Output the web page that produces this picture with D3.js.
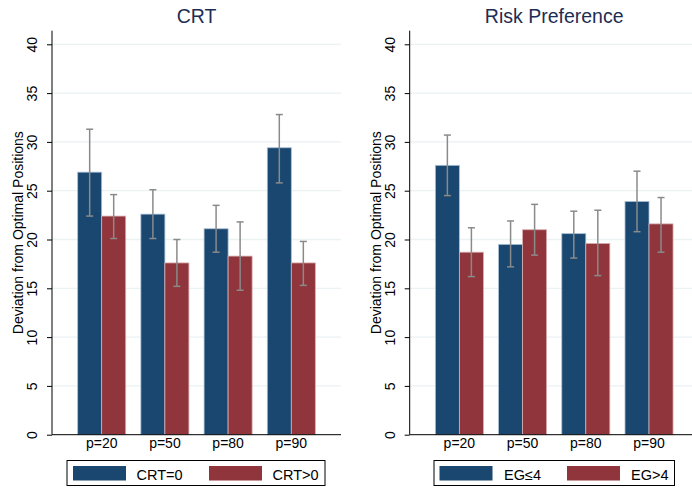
<!DOCTYPE html>
<html>
<head>
<meta charset="utf-8">
<script src="https://cdn.jsdelivr.net/npm/d3@7/dist/d3.min.js"></script>
<style>
  html, body { margin: 0; padding: 0; background: #fff; }
  svg { display: block; font-family: "Liberation Sans", Arial, sans-serif; }
</style>
</head>
<body>
<svg id="chart" width="692" height="490"></svg>
<script>
// Categories and tick labels
const categories = ["p=20", "p=50", "p=80", "p=90"];
const yTicks = [0, 5, 10, 15, 20, 25, 30, 35, 40];

// CRT panel: mean deviation with confidence intervals
const crtZero  = [26.9, 22.6, 21.1, 29.4];
const crtZeroLo = [22.4, 20.1, 18.7, 25.8];
const crtZeroHi = [31.3, 25.1, 23.5, 32.8];
const crtPos   = [22.4, 17.6, 18.3, 17.6];
const crtPosLo = [20.1, 15.2, 14.8, 15.3];
const crtPosHi = [24.6, 20.0, 21.8, 19.8];

// Risk preference panel
const egLow    = [27.6, 19.5, 20.6, 23.9];
const egLowLo  = [24.5, 17.2, 18.1, 20.8];
const egLowHi  = [30.7, 21.9, 22.9, 27.0];
const egHigh   = [18.7, 21.0, 19.6, 21.6];
const egHighLo = [16.2, 18.4, 16.3, 18.7];
const egHighHi = [21.2, 23.6, 23.0, 24.3];

const panels = [
  { title: "CRT", left: 52, legend: ["CRT=0", "CRT>0"],
    series: [
      { mean: crtZero, lo: crtZeroLo, hi: crtZeroHi },
      { mean: crtPos,  lo: crtPosLo,  hi: crtPosHi }
    ],
    legendBox: [67, 325], swatchX: [73, 209], labelX: [136.5, 272.5] },
  { title: "Risk Preference", left: 409.7, legend: ["EG\u22644", "EG>4"],
    series: [
      { mean: egLow,  lo: egLowLo,  hi: egLowHi },
      { mean: egHigh, lo: egHighLo, hi: egHighHi }
    ],
    legendBox: [434, 674.5], swatchX: [439.5, 567], labelX: [504, 631] }
];

const colors = ["#1a476f", "#90353b"];
const outlines = ["#a9c0d6", "#d9aeb1"];
const plotW = 289;
const yTop = 30.7, yBottom = 434.7;

const svg = d3.select("#chart");

panels.forEach(p => {
  const g = svg.append("g");
  const y = d3.scaleLinear().domain([0, 40]).range([yBottom, 44.3]);
  const x0 = d3.scaleBand().domain(categories)
    .range([p.left, p.left + plotW]).paddingInner(0.24).paddingOuter(0.406);
  const x1 = d3.scaleBand().domain([0, 1]).range([0, x0.bandwidth()]);

  // horizontal grid
  g.append("g").selectAll("line").data(yTicks.filter(t => t > 0)).join("line")
    .attr("x1", p.left).attr("x2", p.left + plotW)
    .attr("y1", d => y(d)).attr("y2", d => y(d))
    .attr("stroke", "#eaf2f3").attr("stroke-width", 1.3);

  // bars
  p.series.forEach((s, si) => {
    g.append("g").selectAll("rect").data(categories).join("rect")
      .attr("x", c => x0(c) + x1(si))
      .attr("width", x1.bandwidth())
      .attr("y", (c, i) => y(s.mean[i]))
      .attr("height", (c, i) => y(0) - y(s.mean[i]))
      .attr("fill", colors[si])
      .attr("stroke", outlines[si]).attr("stroke-width", 0.8);
  });

  // error bars
  p.series.forEach((s, si) => {
    const eg = g.append("g").attr("stroke", "#8a8a8a").attr("stroke-width", 1.5);
    categories.forEach((c, i) => {
      const cx = x0(c) + x1(si) + x1.bandwidth() / 2;
      eg.append("line").attr("x1", cx).attr("x2", cx)
        .attr("y1", y(s.lo[i])).attr("y2", y(s.hi[i]));
      [s.lo[i], s.hi[i]].forEach(v => {
        eg.append("line").attr("x1", cx - 3.5).attr("x2", cx + 3.5)
          .attr("y1", y(v)).attr("y2", y(v));
      });
    });
  });

  // y axis
  const yAxis = d3.axisLeft(y).tickValues(yTicks).tickSize(5).tickPadding(4);
  const ya = g.append("g").attr("transform", `translate(${p.left},0)`).call(yAxis);
  ya.select(".domain").remove();
  ya.selectAll(".tick line").attr("stroke", "#000").attr("stroke-width", 1);
  ya.selectAll(".tick text")
    .attr("font-size", 14).attr("fill", "#000")
    .attr("transform", "rotate(-90)")
    .attr("x", 0).attr("y", -19)
    .attr("text-anchor", "middle").attr("dy", "0.32em");
  g.append("line").attr("x1", p.left).attr("x2", p.left)
    .attr("y1", yTop).attr("y2", yBottom).attr("stroke", "#000").attr("stroke-width", 1);

  // x axis
  const xa = g.append("g").attr("transform", `translate(0,${yBottom})`)
    .call(d3.axisBottom(x0).tickSize(0).tickPadding(3));
  xa.select(".domain").attr("d", `M${p.left},0H${p.left + plotW}`)
    .attr("stroke", "#000").attr("stroke-width", 1);
  xa.selectAll(".tick text").attr("font-size", 14).attr("fill", "#000");

  // axis title
  g.append("text")
    .attr("transform", `translate(${p.left - 34},${(yTop + yBottom) / 2}) rotate(-90)`)
    .attr("text-anchor", "middle").attr("dy", "0.35em")
    .attr("font-size", 14).attr("fill", "#000")
    .text("Deviation from Optimal Positions");

  // panel title
  g.append("text").attr("x", p.left + plotW / 2).attr("y", 23)
    .attr("text-anchor", "middle").attr("font-size", 19.5).attr("fill", "#1e2d53")
    .text(p.title);

  // legend
  g.append("rect").attr("x", p.legendBox[0]).attr("y", 460.5)
    .attr("width", p.legendBox[1] - p.legendBox[0]).attr("height", 25)
    .attr("fill", "#fff").attr("stroke", "#000").attr("stroke-width", 1);
  p.legend.forEach((lab, i) => {
    g.append("rect").attr("x", p.swatchX[i]).attr("y", 466)
      .attr("width", 53).attr("height", 14.5).attr("fill", colors[i]);
    g.append("text").attr("x", p.labelX[i]).attr("y", 479.5)
      .attr("font-size", 14.5).attr("fill", "#000").text(lab);
  });
});
</script>
</body>
</html>
